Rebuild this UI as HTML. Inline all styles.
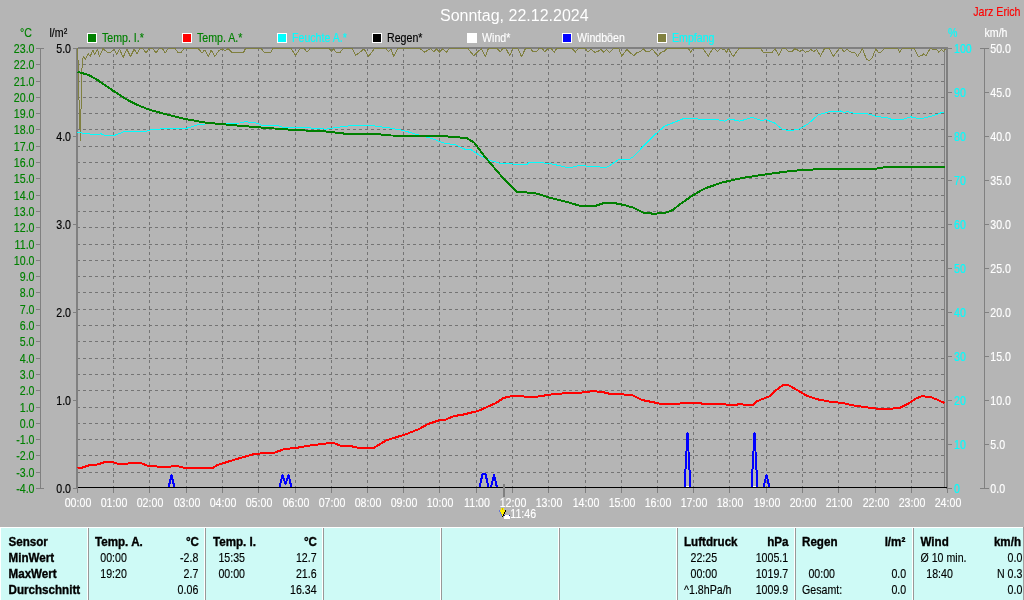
<!DOCTYPE html>
<html lang="de"><head><meta charset="utf-8"><title>Sonntag, 22.12.2024</title>
<style>
html,body{margin:0;padding:0;background:#b5b5b5;}
body{width:1024px;height:600px;overflow:hidden;font-family:"Liberation Sans",Arial,sans-serif;}
svg{display:block}
svg text{font-family:"Liberation Sans",Arial,sans-serif;font-size:12.5px;stroke-width:.15px;}
.b{font-weight:bold;stroke-width:.35px}
.e{text-anchor:end}
.m{text-anchor:middle}
</style></head><body>
<svg width="1024" height="600" viewBox="0 0 1024 600">
<rect width="1024" height="600" fill="#b5b5b5"/>

<g stroke="#747474" stroke-width="1" stroke-dasharray="3 3" shape-rendering="crispEdges" fill="none">
<path d="M77 64.5H944"/>
<path d="M77 81.5H944"/>
<path d="M77 97.5H944"/>
<path d="M77 113.5H944"/>
<path d="M77 129.5H944"/>
<path d="M77 146.5H944"/>
<path d="M77 162.5H944"/>
<path d="M77 178.5H944"/>
<path d="M77 195.5H944"/>
<path d="M77 211.5H944"/>
<path d="M77 227.5H944"/>
<path d="M77 244.5H944"/>
<path d="M77 260.5H944"/>
<path d="M77 276.5H944"/>
<path d="M77 292.5H944"/>
<path d="M77 309.5H944"/>
<path d="M77 325.5H944"/>
<path d="M77 341.5H944"/>
<path d="M77 358.5H944"/>
<path d="M77 374.5H944"/>
<path d="M77 390.5H944"/>
<path d="M77 407.5H944"/>
<path d="M77 423.5H944"/>
<path d="M77 439.5H944"/>
<path d="M77 455.5H944"/>
<path d="M77 472.5H944"/>
<path d="M113.5 48V487"/>
<path d="M149.5 48V487"/>
<path d="M186.5 48V487"/>
<path d="M222.5 48V487"/>
<path d="M258.5 48V487"/>
<path d="M295.5 48V487"/>
<path d="M331.5 48V487"/>
<path d="M367.5 48V487"/>
<path d="M403.5 48V487"/>
<path d="M439.5 48V487"/>
<path d="M476.5 48V487"/>
<path d="M512.5 48V487"/>
<path d="M548.5 48V487"/>
<path d="M585.5 48V487"/>
<path d="M621.5 48V487"/>
<path d="M657.5 48V487"/>
<path d="M693.5 48V487"/>
<path d="M729.5 48V487"/>
<path d="M766.5 48V487"/>
<path d="M802.5 48V487"/>
<path d="M838.5 48V487"/>
<path d="M875.5 48V487"/>
<path d="M911.5 48V487"/>
</g>
<g shape-rendering="crispEdges">
<rect x="76" y="48" width="2" height="441" fill="#808080"/>
<rect x="78" y="47" width="870" height="2" fill="#808080"/>
<rect x="944" y="49" width="1" height="439" fill="#808080"/>
<rect x="946" y="47" width="2" height="442" fill="#808080"/>
</g>
<g fill="none" shape-rendering="crispEdges" stroke-linejoin="round">
<polyline stroke="#808040" stroke-width="1" points="77.5,48.5 78.2,63.8 79.0,100.0 80.4,140.8 81.2,100.0 81.9,69.3 83.2,56.5 85.6,59.2 88.3,53.7 90.2,56.5 92.9,50.0 94.7,54.7 97.5,49.2 99.3,56.5 103.0,48.5 105.7,51.0 108.5,52.8 111.0,52.0 114.0,49.2 116.7,54.7 119.5,49.2 123.2,57.4 126.8,49.2 130.5,56.5 134.2,49.2 136.9,53.7 139.6,48.8 143.0,48.8 146.0,52.8 148.8,48.8 153.0,48.8 156.1,52.8 159.0,48.8 162.6,48.8 165.3,52.8 168.0,48.8 175.4,48.8 178.1,52.8 180.9,52.8 183.6,48.8 198.3,48.8 202.0,52.8 204.7,50.0 208.4,56.5 211.1,50.0 214.8,56.5 218.5,51.0 222.1,48.8 225.0,50.8 228.0,48.5 231.8,52.2 243.6,52.2 245.5,48.5 261.1,48.5 264.0,52.2 270.9,52.2 272.9,48.5 291.4,48.5 295.3,55.7 300.2,48.5 304.1,48.5 307.0,52.2 310.0,48.5 329.5,48.5 331.4,51.8 333.4,48.8 336.3,52.2 340.2,52.2 343.2,48.5 352.0,48.5 355.9,55.3 361.7,50.8 364.0,48.8 368.6,56.6 374.4,48.5 386.1,48.5 388.1,51.4 391.0,49.4 393.9,56.6 397.9,48.5 420.0,48.5 424.9,52.2 428.8,49.5 431.0,48.8 433.7,51.8 436.5,48.8 439.5,52.2 442.5,48.8 446.4,52.2 449.3,48.5 467.9,48.5 473.7,55.7 478.6,50.8 481.5,48.8 485.4,56.6 488.4,48.5 497.1,48.5 500.1,51.8 503.0,48.5 505.9,48.5 509.8,55.7 512.8,48.5 517.7,48.5 521.6,56.6 525.5,48.5 530.4,48.5 533.3,51.8 536.2,51.8 539.1,48.5 542.0,48.5 545.0,51.8 547.9,48.5 550.9,48.5 554.4,52.2 556.7,48.5 572.3,48.5 575.3,52.2 578.2,48.5 585.0,48.5 588.0,51.8 590.9,49.4 594.8,52.2 597.5,51.8 600.7,49.4 603.6,52.2 606.5,49.4 609.5,52.2 613.4,48.8 618.9,48.8 621.8,56.1 626.7,49.4 633.6,55.7 637.5,52.2 640.4,51.8 643.3,48.8 646.3,51.8 649.0,51.8 652.1,48.8 658.0,56.1 660.9,52.2 663.8,51.8 666.8,48.5 688.2,48.5 690.8,52.2 693.1,48.5 702.9,48.5 708.4,56.1 712.7,48.5 714.6,48.8 717.5,51.8 720.5,48.8 724.4,49.4 726.7,52.2 728.3,48.8 733.2,56.6 739.0,48.5 760.5,48.5 763.4,52.2 772.2,52.2 775.2,48.8 778.7,55.7 782.0,48.8 786.0,48.8 788.8,51.8 791.5,51.8 794.7,48.8 797.0,49.4 799.6,51.8 802.5,49.4 804.9,52.2 807.8,51.8 810.7,49.4 813.7,51.8 816.6,49.4 820.5,56.1 824.4,48.8 829.3,48.8 833.2,56.6 839.1,48.8 842.0,48.8 843.9,51.8 846.9,49.4 851.8,52.7 854.7,52.2 857.6,56.6 862.5,48.8 866.4,59.2 869.3,60.6 872.3,57.6 875.8,48.8 878.1,52.2 881.0,52.2 884.0,48.8 897.7,48.8 899.6,52.2 902.0,48.8 914.3,48.8 918.2,56.6 922.0,55.3 924.0,53.7 926.0,56.1 929.9,48.8 936.7,49.4 938.7,52.2 941.6,49.4 943.6,51.8 945.5,48.8"/>
<polyline stroke="#00ffff" stroke-width="1" points="77.5,132.5 88.8,133.8 97.5,135.0 101.0,133.8 105.0,135.3 115.0,135.2 123.8,131.8 145.0,131.8 150.0,130.0 162.5,128.8 185.0,128.8 200.0,124.2 210.0,123.8 240.0,123.0 245.0,121.8 255.0,122.5 262.5,125.5 277.5,125.5 285.0,128.0 305.0,127.5 326.0,129.2 336.0,127.5 349.8,125.8 371.0,125.5 391.0,128.2 403.5,130.5 418.5,135.0 431.0,138.2 443.5,143.0 456.0,145.0 466.5,150.0 470.0,149.0 479.0,155.0 489.0,160.0 499.0,163.0 526.5,165.0 529.0,162.5 549.0,163.2 569.0,168.0 579.0,165.5 606.5,167.5 619.0,159.5 629.0,159.5 634.0,156.2 644.0,145.5 654.0,135.5 664.5,126.2 677.0,121.2 684.5,118.2 697.0,118.5 700.8,120.0 717.0,119.5 724.5,121.2 729.5,118.8 739.5,121.2 752.0,117.5 762.0,120.5 765.8,119.5 774.5,123.0 782.0,129.0 789.5,131.0 800.0,128.8 808.0,124.0 818.0,115.0 828.0,112.0 840.5,111.0 844.2,112.5 847.5,111.5 853.0,113.0 868.0,114.0 878.0,116.8 886.8,117.5 893.0,120.0 903.0,119.2 910.5,116.8 920.5,119.0 933.0,115.8 940.5,113.0 944.5,112.5"/>
<polyline stroke="#008000" stroke-width="2" points="77.5,71.8 88.8,75.0 97.5,80.0 113.8,91.2 126.2,99.2 137.5,105.0 150.0,110.0 168.8,115.0 186.2,119.2 205.0,122.5 222.5,124.2 245.0,126.2 267.5,128.0 295.0,130.0 326.0,131.5 346.0,133.8 378.5,134.2 391.0,135.5 438.5,135.8 454.0,137.0 466.5,138.0 474.0,142.5 486.5,158.8 501.5,176.2 516.5,191.8 534.0,193.0 541.5,195.0 551.5,198.2 566.5,201.8 579.0,205.5 596.5,205.5 604.0,203.0 614.0,203.0 624.0,205.0 632.8,207.5 642.8,212.5 654.0,213.8 666.5,212.5 672.8,210.0 679.0,205.0 691.5,196.2 704.0,188.8 722.0,182.5 742.0,178.0 767.0,174.2 792.0,170.8 818.0,169.2 875.5,168.8 885.5,167.0 944.5,167.0"/>
<polyline stroke="#ff0000" stroke-width="2" points="77.5,468.2 82.5,467.5 90.0,465.0 97.5,464.5 105.0,462.0 112.5,461.8 117.5,463.8 127.5,463.8 131.2,462.5 140.0,462.5 147.5,465.8 155.0,465.8 157.5,466.8 170.0,466.8 173.8,465.8 177.5,466.2 185.0,468.0 212.5,468.0 217.5,465.0 235.0,459.5 255.0,453.8 275.0,452.5 285.0,448.8 295.0,448.2 307.5,445.8 326.0,443.5 333.5,443.0 341.0,445.8 351.0,446.2 359.8,448.0 373.5,448.0 386.0,440.5 406.0,434.2 418.5,429.2 428.5,423.8 438.5,420.5 446.0,419.5 453.5,416.2 463.5,414.5 478.5,410.8 496.0,403.0 503.5,398.0 511.0,396.2 536.0,396.8 556.0,393.8 582.0,392.5 592.0,391.2 602.0,391.8 609.5,393.8 619.5,394.2 632.0,395.0 642.0,400.0 654.5,402.5 662.0,404.2 677.0,404.2 682.0,403.0 699.5,403.0 704.5,404.2 724.5,404.2 729.5,405.5 735.8,405.0 739.5,404.0 747.0,405.0 753.2,405.0 757.0,401.2 769.5,396.2 777.0,389.5 783.2,385.0 788.2,385.0 797.0,390.0 807.0,395.8 817.0,399.2 830.5,401.8 843.0,403.0 850.5,405.0 868.0,407.5 878.0,408.8 890.5,408.8 900.5,407.5 908.0,403.8 915.5,398.8 921.8,396.2 930.5,397.0 938.0,400.0 944.5,403.0"/>
<polyline stroke="#0000ff" stroke-width="2" points="168.5,487.5 171.5,475.5 174.5,487.5"/>
<polyline stroke="#0000ff" stroke-width="2" points="279.5,487.5 282.5,475.0 285.5,484.0 288.5,475.0 291.5,487.5"/>
<polyline stroke="#0000ff" stroke-width="2" points="479.5,487.5 482.5,474.0 485.5,474.0 488.5,487.5"/>
<polyline stroke="#0000ff" stroke-width="2" points="491.0,487.5 494.0,475.0 497.0,487.5"/>
<polyline stroke="#0000ff" stroke-width="2" points="684.5,487.5 687.5,433.0 690.5,487.5"/>
<polyline stroke="#0000ff" stroke-width="2" points="751.5,487.5 754.5,433.0 757.5,487.5"/>
<polyline stroke="#0000ff" stroke-width="2" points="763.5,487.5 766.5,475.0 769.5,487.5"/>
<rect x="686" y="486" width="3" height="1" fill="#fff"/><rect x="753" y="486" width="3" height="1" fill="#fff"/>
</g>
<g shape-rendering="crispEdges">
<rect x="78" y="487" width="869" height="1" fill="#000"/>
<rect x="77" y="488" width="1" height="5" fill="#808080"/>
<rect x="113" y="488" width="1" height="5" fill="#808080"/>
<rect x="149" y="488" width="1" height="5" fill="#808080"/>
<rect x="186" y="488" width="1" height="5" fill="#808080"/>
<rect x="222" y="488" width="1" height="5" fill="#808080"/>
<rect x="258" y="488" width="1" height="5" fill="#808080"/>
<rect x="295" y="488" width="1" height="5" fill="#808080"/>
<rect x="331" y="488" width="1" height="5" fill="#808080"/>
<rect x="367" y="488" width="1" height="5" fill="#808080"/>
<rect x="403" y="488" width="1" height="5" fill="#808080"/>
<rect x="439" y="488" width="1" height="5" fill="#808080"/>
<rect x="476" y="488" width="1" height="5" fill="#808080"/>
<rect x="512" y="488" width="1" height="5" fill="#808080"/>
<rect x="548" y="488" width="1" height="5" fill="#808080"/>
<rect x="585" y="488" width="1" height="5" fill="#808080"/>
<rect x="621" y="488" width="1" height="5" fill="#808080"/>
<rect x="657" y="488" width="1" height="5" fill="#808080"/>
<rect x="693" y="488" width="1" height="5" fill="#808080"/>
<rect x="729" y="488" width="1" height="5" fill="#808080"/>
<rect x="766" y="488" width="1" height="5" fill="#808080"/>
<rect x="802" y="488" width="1" height="5" fill="#808080"/>
<rect x="838" y="488" width="1" height="5" fill="#808080"/>
<rect x="875" y="488" width="1" height="5" fill="#808080"/>
<rect x="911" y="488" width="1" height="5" fill="#808080"/>
<rect x="947" y="488" width="1" height="5" fill="#808080"/>
<rect x="503" y="484" width="2" height="13" fill="#808080"/>
<rect x="40" y="48" width="1" height="441" fill="#808080"/>
<rect x="36" y="48" width="8" height="1" fill="#808080"/>
<rect x="36" y="64" width="4" height="1" fill="#808080"/>
<rect x="36" y="81" width="4" height="1" fill="#808080"/>
<rect x="36" y="97" width="4" height="1" fill="#808080"/>
<rect x="36" y="113" width="4" height="1" fill="#808080"/>
<rect x="36" y="129" width="4" height="1" fill="#808080"/>
<rect x="36" y="146" width="4" height="1" fill="#808080"/>
<rect x="36" y="162" width="4" height="1" fill="#808080"/>
<rect x="36" y="178" width="4" height="1" fill="#808080"/>
<rect x="36" y="195" width="4" height="1" fill="#808080"/>
<rect x="36" y="211" width="4" height="1" fill="#808080"/>
<rect x="36" y="227" width="4" height="1" fill="#808080"/>
<rect x="36" y="244" width="4" height="1" fill="#808080"/>
<rect x="36" y="260" width="4" height="1" fill="#808080"/>
<rect x="36" y="276" width="4" height="1" fill="#808080"/>
<rect x="36" y="292" width="4" height="1" fill="#808080"/>
<rect x="36" y="309" width="4" height="1" fill="#808080"/>
<rect x="36" y="325" width="4" height="1" fill="#808080"/>
<rect x="36" y="341" width="4" height="1" fill="#808080"/>
<rect x="36" y="358" width="4" height="1" fill="#808080"/>
<rect x="36" y="374" width="4" height="1" fill="#808080"/>
<rect x="36" y="390" width="4" height="1" fill="#808080"/>
<rect x="36" y="407" width="4" height="1" fill="#808080"/>
<rect x="36" y="423" width="4" height="1" fill="#808080"/>
<rect x="36" y="439" width="4" height="1" fill="#808080"/>
<rect x="36" y="455" width="4" height="1" fill="#808080"/>
<rect x="36" y="472" width="4" height="1" fill="#808080"/>
<rect x="36" y="488" width="8" height="1" fill="#808080"/>
<rect x="73" y="48" width="4" height="1" fill="#808080"/>
<rect x="73" y="136" width="4" height="1" fill="#808080"/>
<rect x="73" y="224" width="4" height="1" fill="#808080"/>
<rect x="73" y="312" width="4" height="1" fill="#808080"/>
<rect x="73" y="400" width="4" height="1" fill="#808080"/>
<rect x="73" y="488" width="4" height="1" fill="#808080"/>
<rect x="948" y="48" width="4" height="1" fill="#808080"/>
<rect x="948" y="92" width="4" height="1" fill="#808080"/>
<rect x="948" y="136" width="4" height="1" fill="#808080"/>
<rect x="948" y="180" width="4" height="1" fill="#808080"/>
<rect x="948" y="224" width="4" height="1" fill="#808080"/>
<rect x="948" y="268" width="4" height="1" fill="#808080"/>
<rect x="948" y="312" width="4" height="1" fill="#808080"/>
<rect x="948" y="356" width="4" height="1" fill="#808080"/>
<rect x="948" y="400" width="4" height="1" fill="#808080"/>
<rect x="948" y="444" width="4" height="1" fill="#808080"/>
<rect x="948" y="488" width="4" height="1" fill="#808080"/>
<rect x="984" y="48" width="1" height="441" fill="#808080"/>
<rect x="980" y="48" width="9" height="1" fill="#808080"/>
<rect x="985" y="92" width="4" height="1" fill="#808080"/>
<rect x="985" y="136" width="4" height="1" fill="#808080"/>
<rect x="985" y="180" width="4" height="1" fill="#808080"/>
<rect x="985" y="224" width="4" height="1" fill="#808080"/>
<rect x="985" y="268" width="4" height="1" fill="#808080"/>
<rect x="985" y="312" width="4" height="1" fill="#808080"/>
<rect x="985" y="356" width="4" height="1" fill="#808080"/>
<rect x="985" y="400" width="4" height="1" fill="#808080"/>
<rect x="985" y="444" width="4" height="1" fill="#808080"/>
<rect x="980" y="488" width="9" height="1" fill="#808080"/>
</g>
<g fill="#008000" stroke="#008000">
<text transform="translate(34.5 53) scale(0.85 1)" text-anchor="end">23.0</text>
<text transform="translate(34.5 69) scale(0.85 1)" text-anchor="end">22.0</text>
<text transform="translate(34.5 86) scale(0.85 1)" text-anchor="end">21.0</text>
<text transform="translate(34.5 102) scale(0.85 1)" text-anchor="end">20.0</text>
<text transform="translate(34.5 118) scale(0.85 1)" text-anchor="end">19.0</text>
<text transform="translate(34.5 134) scale(0.85 1)" text-anchor="end">18.0</text>
<text transform="translate(34.5 151) scale(0.85 1)" text-anchor="end">17.0</text>
<text transform="translate(34.5 167) scale(0.85 1)" text-anchor="end">16.0</text>
<text transform="translate(34.5 183) scale(0.85 1)" text-anchor="end">15.0</text>
<text transform="translate(34.5 200) scale(0.85 1)" text-anchor="end">14.0</text>
<text transform="translate(34.5 216) scale(0.85 1)" text-anchor="end">13.0</text>
<text transform="translate(34.5 232) scale(0.85 1)" text-anchor="end">12.0</text>
<text transform="translate(34.5 249) scale(0.85 1)" text-anchor="end">11.0</text>
<text transform="translate(34.5 265) scale(0.85 1)" text-anchor="end">10.0</text>
<text transform="translate(34.5 281) scale(0.85 1)" text-anchor="end">9.0</text>
<text transform="translate(34.5 297) scale(0.85 1)" text-anchor="end">8.0</text>
<text transform="translate(34.5 314) scale(0.85 1)" text-anchor="end">7.0</text>
<text transform="translate(34.5 330) scale(0.85 1)" text-anchor="end">6.0</text>
<text transform="translate(34.5 346) scale(0.85 1)" text-anchor="end">5.0</text>
<text transform="translate(34.5 363) scale(0.85 1)" text-anchor="end">4.0</text>
<text transform="translate(34.5 379) scale(0.85 1)" text-anchor="end">3.0</text>
<text transform="translate(34.5 395) scale(0.85 1)" text-anchor="end">2.0</text>
<text transform="translate(34.5 412) scale(0.85 1)" text-anchor="end">1.0</text>
<text transform="translate(34.5 428) scale(0.85 1)" text-anchor="end">0.0</text>
<text transform="translate(34.5 444) scale(0.85 1)" text-anchor="end">-1.0</text>
<text transform="translate(34.5 460) scale(0.85 1)" text-anchor="end">-2.0</text>
<text transform="translate(34.5 477) scale(0.85 1)" text-anchor="end">-3.0</text>
<text transform="translate(34.5 493) scale(0.85 1)" text-anchor="end">-4.0</text>
<text transform="translate(20 37) scale(0.85 1)">°C</text>
</g>
<g fill="#000" stroke="#000">
<text transform="translate(49.5 37) scale(0.85 1)">l/m²</text>
<text transform="translate(71 53) scale(0.85 1)" text-anchor="end">5.0</text>
<text transform="translate(71 141) scale(0.85 1)" text-anchor="end">4.0</text>
<text transform="translate(71 229) scale(0.85 1)" text-anchor="end">3.0</text>
<text transform="translate(71 317) scale(0.85 1)" text-anchor="end">2.0</text>
<text transform="translate(71 405) scale(0.85 1)" text-anchor="end">1.0</text>
<text transform="translate(71 493) scale(0.85 1)" text-anchor="end">0.0</text>
</g>
<g fill="#00ffff" stroke="#00ffff">
<text transform="translate(948 37) scale(0.85 1)">%</text>
<text transform="translate(954 53) scale(0.85 1)">100</text>
<text transform="translate(954 97) scale(0.85 1)">90</text>
<text transform="translate(954 141) scale(0.85 1)">80</text>
<text transform="translate(954 185) scale(0.85 1)">70</text>
<text transform="translate(954 229) scale(0.85 1)">60</text>
<text transform="translate(954 273) scale(0.85 1)">50</text>
<text transform="translate(954 317) scale(0.85 1)">40</text>
<text transform="translate(954 361) scale(0.85 1)">30</text>
<text transform="translate(954 405) scale(0.85 1)">20</text>
<text transform="translate(954 449) scale(0.85 1)">10</text>
<text transform="translate(954 493) scale(0.85 1)">0</text>
</g>
<g fill="#fff" stroke="#fff">
<text transform="translate(984.5 37) scale(0.85 1)">km/h</text>
<text transform="translate(990.3 53) scale(0.85 1)">50.0</text>
<text transform="translate(990.3 97) scale(0.85 1)">45.0</text>
<text transform="translate(990.3 141) scale(0.85 1)">40.0</text>
<text transform="translate(990.3 185) scale(0.85 1)">35.0</text>
<text transform="translate(990.3 229) scale(0.85 1)">30.0</text>
<text transform="translate(990.3 273) scale(0.85 1)">25.0</text>
<text transform="translate(990.3 317) scale(0.85 1)">20.0</text>
<text transform="translate(990.3 361) scale(0.85 1)">15.0</text>
<text transform="translate(990.3 405) scale(0.85 1)">10.0</text>
<text transform="translate(990.3 449) scale(0.85 1)">5.0</text>
<text transform="translate(990.3 493) scale(0.85 1)">0.0</text>
<text transform="translate(78 507) scale(0.85 1)" text-anchor="middle">00:00</text>
<text transform="translate(114 507) scale(0.85 1)" text-anchor="middle">01:00</text>
<text transform="translate(150 507) scale(0.85 1)" text-anchor="middle">02:00</text>
<text transform="translate(187 507) scale(0.85 1)" text-anchor="middle">03:00</text>
<text transform="translate(223 507) scale(0.85 1)" text-anchor="middle">04:00</text>
<text transform="translate(259 507) scale(0.85 1)" text-anchor="middle">05:00</text>
<text transform="translate(296 507) scale(0.85 1)" text-anchor="middle">06:00</text>
<text transform="translate(332 507) scale(0.85 1)" text-anchor="middle">07:00</text>
<text transform="translate(368 507) scale(0.85 1)" text-anchor="middle">08:00</text>
<text transform="translate(404 507) scale(0.85 1)" text-anchor="middle">09:00</text>
<text transform="translate(440 507) scale(0.85 1)" text-anchor="middle">10:00</text>
<text transform="translate(477 507) scale(0.85 1)" text-anchor="middle">11:00</text>
<text transform="translate(513 507) scale(0.85 1)" text-anchor="middle">12:00</text>
<text transform="translate(549 507) scale(0.85 1)" text-anchor="middle">13:00</text>
<text transform="translate(586 507) scale(0.85 1)" text-anchor="middle">14:00</text>
<text transform="translate(622 507) scale(0.85 1)" text-anchor="middle">15:00</text>
<text transform="translate(658 507) scale(0.85 1)" text-anchor="middle">16:00</text>
<text transform="translate(694 507) scale(0.85 1)" text-anchor="middle">17:00</text>
<text transform="translate(730 507) scale(0.85 1)" text-anchor="middle">18:00</text>
<text transform="translate(767 507) scale(0.85 1)" text-anchor="middle">19:00</text>
<text transform="translate(803 507) scale(0.85 1)" text-anchor="middle">20:00</text>
<text transform="translate(839 507) scale(0.85 1)" text-anchor="middle">21:00</text>
<text transform="translate(876 507) scale(0.85 1)" text-anchor="middle">22:00</text>
<text transform="translate(912 507) scale(0.85 1)" text-anchor="middle">23:00</text>
<text transform="translate(948 507) scale(0.85 1)" text-anchor="middle">24:00</text>
<text transform="translate(510.3 518) scale(0.85 1)">11:46</text>
</g>
<text x="514.3" y="21" text-anchor="middle" fill="#fff" style="font-size:16px">Sonntag, 22.12.2024</text>
<text transform="translate(1020.5 16) scale(0.85 1)" fill="#ff0000" stroke="#ff0000" text-anchor="end">Jarz Erich</text>
<rect x="87.5" y="33.5" width="9" height="9" fill="#008000" stroke="#fff" stroke-width="1" shape-rendering="crispEdges"/>
<text transform="translate(102 42) scale(0.85 1)" fill="#008000" stroke="#008000">Temp. I.*</text>
<rect x="182.5" y="33.5" width="9" height="9" fill="#ff0000" stroke="#fff" stroke-width="1" shape-rendering="crispEdges"/>
<text transform="translate(197 42) scale(0.85 1)" fill="#008000" stroke="#008000">Temp. A.*</text>
<rect x="277.5" y="33.5" width="9" height="9" fill="#00ffff" stroke="#fff" stroke-width="1" shape-rendering="crispEdges"/>
<text transform="translate(292 42) scale(0.85 1)" fill="#00ffff" stroke="#00ffff">Feuchte A.*</text>
<rect x="372.5" y="33.5" width="9" height="9" fill="#000" stroke="#fff" stroke-width="1" shape-rendering="crispEdges"/>
<text transform="translate(387 42) scale(0.85 1)" fill="#000" stroke="#000">Regen*</text>
<rect x="467.5" y="33.5" width="9" height="9" fill="#fff" stroke="#fff" stroke-width="1" shape-rendering="crispEdges"/>
<text transform="translate(482 42) scale(0.85 1)" fill="#fff" stroke="#fff">Wind*</text>
<rect x="562.5" y="33.5" width="9" height="9" fill="#0000ff" stroke="#fff" stroke-width="1" shape-rendering="crispEdges"/>
<text transform="translate(577 42) scale(0.85 1)" fill="#fff" stroke="#fff">Windböen</text>
<rect x="657.5" y="33.5" width="9" height="9" fill="#808040" stroke="#fff" stroke-width="1" shape-rendering="crispEdges"/>
<text transform="translate(672 42) scale(0.85 1)" fill="#00ffff" stroke="#00ffff">Empfang</text>
<g shape-rendering="crispEdges">
<rect x="501" y="508" width="3" height="2" fill="#ffee00"/>
<rect x="502" y="508" width="1" height="2" fill="#c8b800"/>
<rect x="499" y="510" width="1" height="2" fill="#6878d8"/>
<rect x="500" y="510" width="5" height="2" fill="#ffee00"/>
<rect x="505" y="510" width="1" height="2" fill="#000"/>
<rect x="500" y="512" width="1" height="2" fill="#6878d8"/>
<rect x="501" y="512" width="3" height="2" fill="#ffee00"/>
<rect x="504" y="512" width="1" height="2" fill="#000"/>
<rect x="501" y="514" width="1" height="2" fill="#6878d8"/>
<rect x="502" y="514" width="1" height="2" fill="#ffee00"/>
<rect x="503" y="514" width="1" height="2" fill="#000"/>
<rect x="502" y="516" width="1" height="1" fill="#000"/>
<rect x="504" y="515" width="1" height="1" fill="#1020a0"/>
<rect x="505" y="515" width="4" height="1" fill="#fff"/>
<rect x="509" y="515" width="1" height="1" fill="#1020a0"/>
<rect x="504" y="516" width="6" height="3" fill="#fff"/>
</g>
<g shape-rendering="crispEdges">
<rect x="0" y="527" width="1024" height="73" fill="#cefaf6"/>
<rect x="0" y="527" width="1024" height="1" fill="#fff"/>
<rect x="0" y="527" width="1" height="73" fill="#fff"/>
<rect x="1023" y="527" width="1" height="73" fill="#a0a0a0"/>
<rect x="87" y="528" width="1" height="72" fill="#fff"/>
<rect x="88" y="528" width="1" height="72" fill="#989898"/>
<rect x="204" y="528" width="1" height="72" fill="#fff"/>
<rect x="205" y="528" width="1" height="72" fill="#989898"/>
<rect x="322" y="528" width="1" height="72" fill="#fff"/>
<rect x="323" y="528" width="1" height="72" fill="#989898"/>
<rect x="440" y="528" width="1" height="72" fill="#fff"/>
<rect x="441" y="528" width="1" height="72" fill="#989898"/>
<rect x="558" y="528" width="1" height="72" fill="#fff"/>
<rect x="559" y="528" width="1" height="72" fill="#989898"/>
<rect x="676" y="528" width="1" height="72" fill="#fff"/>
<rect x="677" y="528" width="1" height="72" fill="#989898"/>
<rect x="794" y="528" width="1" height="72" fill="#fff"/>
<rect x="795" y="528" width="1" height="72" fill="#989898"/>
<rect x="912" y="528" width="1" height="72" fill="#fff"/>
<rect x="913" y="528" width="1" height="72" fill="#989898"/>
</g>
<g fill="#000" stroke="#000">
<text transform="translate(8.5 546) scale(0.93 1)" class="b">Sensor</text>
<text transform="translate(8.5 562) scale(0.93 1)" class="b">MinWert</text>
<text transform="translate(8.5 578) scale(0.93 1)" class="b">MaxWert</text>
<text transform="translate(8.5 594) scale(0.93 1)" class="b">Durchschnitt</text>
<text transform="translate(95 546) scale(0.93 1)" class="b">Temp. A.</text>
<text transform="translate(199 546) scale(0.93 1)" text-anchor="end" class="b">°C</text>
<text transform="translate(100.3 562) scale(0.85 1)">00:00</text>
<text transform="translate(198.3 562) scale(0.85 1)" text-anchor="end">-2.8</text>
<text transform="translate(100.3 578) scale(0.85 1)">19:20</text>
<text transform="translate(198.3 578) scale(0.85 1)" text-anchor="end">2.7</text>
<text transform="translate(198.3 594) scale(0.85 1)" text-anchor="end">0.06</text>
<text transform="translate(213 546) scale(0.93 1)" class="b">Temp. I.</text>
<text transform="translate(317 546) scale(0.93 1)" text-anchor="end" class="b">°C</text>
<text transform="translate(218.4 562) scale(0.85 1)">15:35</text>
<text transform="translate(316.6 562) scale(0.85 1)" text-anchor="end">12.7</text>
<text transform="translate(218.4 578) scale(0.85 1)">00:00</text>
<text transform="translate(316.6 578) scale(0.85 1)" text-anchor="end">21.6</text>
<text transform="translate(316.6 594) scale(0.85 1)" text-anchor="end">16.34</text>
<text transform="translate(684 546) scale(0.93 1)" class="b">Luftdruck</text>
<text transform="translate(788.5 546) scale(0.93 1)" text-anchor="end" class="b">hPa</text>
<text transform="translate(690.5 562) scale(0.85 1)">22:25</text>
<text transform="translate(788.2 562) scale(0.85 1)" text-anchor="end">1005.1</text>
<text transform="translate(690.5 578) scale(0.85 1)">00:00</text>
<text transform="translate(788.2 578) scale(0.85 1)" text-anchor="end">1019.7</text>
<text transform="translate(684 594) scale(0.85 1)">^1.8hPa/h</text>
<text transform="translate(788.2 594) scale(0.85 1)" text-anchor="end">1009.9</text>
<text transform="translate(802 546) scale(0.93 1)" class="b">Regen</text>
<text transform="translate(905.3 546) scale(0.93 1)" text-anchor="end" class="b">l/m²</text>
<text transform="translate(808.4 578) scale(0.85 1)">00:00</text>
<text transform="translate(906.2 578) scale(0.85 1)" text-anchor="end">0.0</text>
<text transform="translate(802 594) scale(0.85 1)">Gesamt:</text>
<text transform="translate(906.2 594) scale(0.85 1)" text-anchor="end">0.0</text>
<text transform="translate(920.5 546) scale(0.93 1)" class="b">Wind</text>
<text transform="translate(1021 546) scale(0.93 1)" text-anchor="end" class="b">km/h</text>
<text transform="translate(920.5 562) scale(0.85 1)">Ø 10 min.</text>
<text transform="translate(1022.3 562) scale(0.85 1)" text-anchor="end">0.0</text>
<text transform="translate(926.3 578) scale(0.85 1)">18:40</text>
<text transform="translate(1022.3 578) scale(0.85 1)" text-anchor="end">N 0.3</text>
<text transform="translate(1022.3 594) scale(0.85 1)" text-anchor="end">0.0</text>
</g>
</svg></body></html>
